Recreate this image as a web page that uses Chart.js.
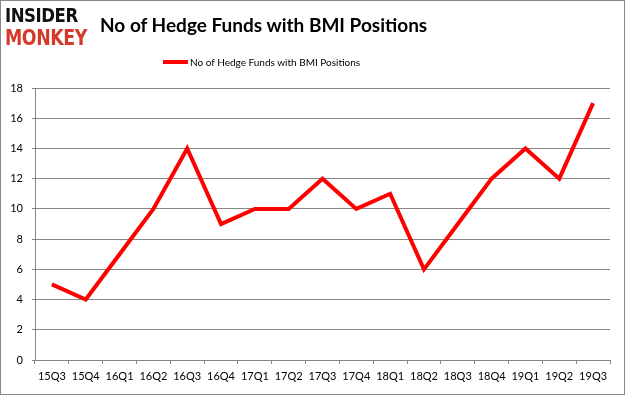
<!DOCTYPE html>
<html>
<head>
<meta charset="utf-8">
<script src="https://cdn.jsdelivr.net/npm/chart.js@4.4.0/dist/chart.umd.min.js"></script>
<style>
    body { margin: 0; background: #fff; }
    #wrap { position: relative; width: 625px; height: 395px; font-family: Lato, "DejaVu Sans", sans-serif; }
    #frame { position: absolute; left: 0; top: 0; width: 625px; height: 395px; box-sizing: border-box; border: 1px solid #8a8a8a; pointer-events: none; }
    #chart { position: absolute; left: 0; top: 0; }
    .logo { position: absolute; left: 5px; font-family: "DejaVu Sans Condensed", "DejaVu Sans", sans-serif; font-weight: bold; font-size: 20px; line-height: 20px; letter-spacing: -0.5px; transform: scaleX(0.92); transform-origin: left; }
    #logo1 { top: 5px; color: #111; }
    #logo2 { top: 28px; color: #d4392a; font-size: 21px; }
    #title { position: absolute; left: 100px; width: 320px; top: 13px; text-align: center; font-weight: bold; font-size: 19px; color: #000; white-space: nowrap; }
    #legend { position: absolute; top: 56px; left: 163px; font-size: 10px; color: #000; display: flex; align-items: center; }
    #legend .swatch { width: 25px; height: 4px; margin-right: 2px; }
</style>
</head>
<body>
<div id="wrap">
    <canvas id="chart" width="625" height="395"></canvas>
    <div class="logo" id="logo1">INSIDER</div>
    <div class="logo" id="logo2">MONKEY</div>
    <div id="title">No of Hedge Funds with BMI Positions</div>
    <div id="legend"></div>
    <div id="frame"></div>
</div>
<script>
// dados do grafico
const quarters = ['15Q3', '15Q4', '16Q1', '16Q2', '16Q3', '16Q4', '17Q1', '17Q2', '17Q3',
    '17Q4', '18Q1', '18Q2', '18Q3', '18Q4', '19Q1', '19Q2', '19Q3'];
const hedgeFunds = [5, 4, 7, 10, 14, 9, 10, 10, 12, 10, 11, 6, 9, 12, 14, 12, 17];
const yTicks = [0, 2, 4, 6, 8, 10, 12, 14, 16, 18];
const seriesName = 'No of Hedge Funds with BMI Positions';

const gridColor = '#868686';
const tickFont = { family: 'Lato', size: 11 };

const ctx = document.getElementById('chart');
const chart = new Chart(ctx, {
    type: 'line',
    data: {
        labels: quarters,
        datasets: [{
            label: seriesName,
            data: hedgeFunds,
            borderColor: '#ff0000',
            backgroundColor: '#ff0000',
            borderWidth: 4,
            pointRadius: 0,
            tension: 0,
            fill: false
        }]
    },
    options: {
        responsive: false,
        animation: false,
        layout: { padding: { top: 88, right: 15, left: 0, bottom: 0 } },
        plugins: {
            legend: { display: false },
            title: { display: false },
            tooltip: { enabled: false }
        },
        scales: {
            x: {
                offset: true,
                afterFit: (scale) => { scale.height = 35; },
                grid: {
                    offset: true,
                    drawOnChartArea: false,
                    color: gridColor,
                    tickLength: 4
                },
                border: { color: gridColor },
                ticks: { color: '#000', font: tickFont, padding: 6, maxRotation: 0, autoSkip: false }
            },
            y: {
                min: yTicks[0],
                max: yTicks[yTicks.length - 1],
                afterFit: (scale) => { scale.width = 35; },
                afterBuildTicks: (scale) => { scale.ticks = yTicks.map(v => ({ value: v })); },
                grid: { color: gridColor, tickLength: 3 },
                border: { color: gridColor },
                ticks: { color: '#000', font: tickFont, padding: 9 }
            }
        }
    }
});

// legenda em html, montada a partir do dataset
const legend = document.getElementById('legend');
chart.data.datasets.forEach(ds => {
    legend.innerHTML += `<div class="swatch" style="background:${ds.borderColor}"></div><span>${ds.label}</span>`;
});
</script>
</body>
</html>
